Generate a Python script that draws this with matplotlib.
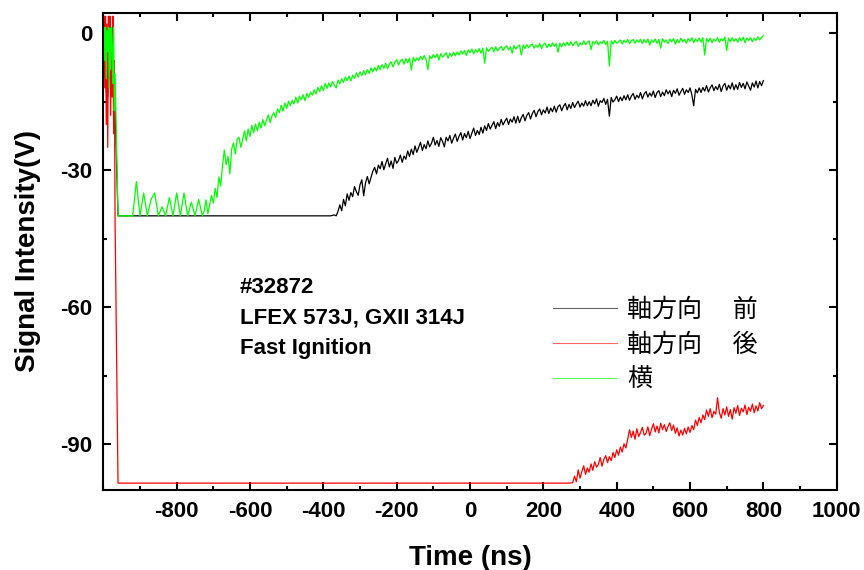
import numpy as np
import matplotlib.pyplot as plt
from matplotlib.ticker import MultipleLocator

plt.rcParams['font.family'] = ['Liberation Sans', 'DejaVu Sans']
plt.rcParams['axes.unicode_minus'] = False

# ---- data (ns, V) ----
t_burst = np.arange(-1000, -967, 2)   # initial noise burst, 2 ns
t_flat0 = -960                        # start of the saturated plateau
flat_step = 10                        # plateau sampling (ns)
rise_step = 5                         # sampling of the recovering part (ns)

black_burst = [-1, -4, -9, -2, -13, -5, -14, -3, -10, -6, -13, -2, -10, -7, -14, -11, -16]
red_burst = [-3, 3.7, -12, 3.7, -20, 2.0, -25, 3.7, -8, 3.7, -18, 1.0, -14, 3.7, -22, -6, -41]
green_burst = [0, 1.2, -6, 1.3, -10, 0.5, -4, 1.3, -12, 1.0, -8, 1.3, -3, -11, 1.2, -17, -9]

black_level = -40.0
red_level = -98.5
# 横 plateau (-960 .. -740 ns) has a few spikes
green_plateau = [-40, -40, -40, -40, -40, -32.5, -40, -35, -40, -36.4, -35, -40,
                 -38, -40, -36, -40, -35, -40, -35, -40, -37, -40, -36.4]

# 軸方向 前, from -370 ns
black_t0 = -370
black_rise = [
    -39.8, -40.0, -39.0, -37.6, -38.9, -36.4, -37.8, -35.2, -36.6, -34.9, -35.8, -33.6, -34.7, -35.5, -33.2, -32.1, -35.6, -32.8, -31.4, -33.0,
    -31.6, -30.2, -29.4, -30.8, -28.9, -29.7, -28.1, -29.9, -28.6, -27.4, -29.3, -28.0, -29.6, -27.2, -28.5, -27.9, -26.7, -28.3, -26.9, -27.6,
    -25.8, -27.0, -25.4, -26.6, -24.7, -26.1, -25.0, -23.9, -25.7, -24.4, -25.3, -23.6, -24.9, -24.1, -22.8, -24.5, -23.5, -24.8, -22.9, -23.7,
    -24.9, -22.8, -23.6, -22.4, -24.1, -23.0, -22.1, -23.7, -22.6, -21.8, -23.4, -22.0, -22.9, -21.5, -23.1, -21.9, -20.8, -22.4, -21.3, -22.2,
    -20.6, -21.9, -20.3, -21.3, -19.8, -21.0, -20.2, -19.4, -20.9, -19.6, -20.4, -18.9, -20.1, -19.3, -18.6, -20.0, -18.8, -19.5, -18.3, -19.7,
    -18.2, -19.6, -18.5, -17.8, -19.2, -18.0, -17.4, -18.8, -17.6, -16.9, -18.3, -17.2, -16.6, -17.9, -16.8, -17.5, -16.2, -17.6, -16.4, -17.2,
    -16.0, -17.3, -16.1, -15.7, -17.0, -16.0, -15.4, -16.8, -15.6, -16.5, -15.2, -16.3, -15.5, -14.9, -16.2, -15.3, -16.0, -14.8, -15.9, -15.0,
    -15.9, -14.7, -15.5, -14.4, -16.0, -14.8, -15.2, -14.3, -15.6, -14.5, -18.2, -14.1, -15.1, -14.6, -13.8, -15.0, -14.0, -14.8, -13.7, -14.6,
    -13.5, -14.7, -13.8, -13.2, -14.5, -13.6, -14.2, -13.0, -14.4, -13.3, -12.8, -14.0, -13.1, -13.8, -12.7, -14.1, -13.0, -12.6, -13.9, -12.9,
    -13.7, -12.4, -13.3, -12.6, -13.9, -12.5, -13.2, -12.2, -13.6, -12.8, -12.1, -13.4, -12.4, -13.0, -12.0, -13.5, -15.9, -12.3, -13.1, -12.0,
    -13.0, -11.9, -12.7, -11.5, -12.9, -12.0, -11.3, -12.6, -11.7, -12.4, -11.2, -12.8, -11.6, -11.0, -12.5, -11.4, -12.2, -10.9, -12.4, -11.3,
    -12.3, -10.8, -11.9, -11.0, -12.2, -10.7, -11.6, -12.5, -10.9, -11.8, -10.5, -12.0, -10.6, -11.5, -10.4,
]

# 軸方向 後, from 280 ns
red_t0 = 280
red_rise = [
    -98.4, -97.0, -98.2, -95.6, -97.4, -96.0, -94.7, -96.6, -95.2, -96.1, -94.3, -95.7, -93.8, -95.0, -94.4, -92.9, -94.8, -93.3, -92.5, -94.0,
    -92.7, -93.6, -91.8, -92.9, -91.2, -92.4, -90.6, -91.7, -89.9, -90.8, -88.9, -86.8, -88.5, -87.1, -88.9, -86.6, -88.3, -87.4, -86.3, -88.0,
    -87.6, -86.2, -88.1, -86.7, -85.5, -87.3, -86.0, -87.5, -85.4, -86.8, -85.7, -87.2, -86.1, -85.3, -87.0, -85.8, -87.6, -86.4, -88.2, -86.9,
    -88.0, -86.5, -87.7, -86.2, -87.4, -85.9, -86.8, -84.7, -85.9, -84.1, -85.3, -83.6, -84.6, -82.5, -83.9, -82.2, -84.2, -82.8, -83.4, -79.8,
    -83.0, -84.3, -82.2, -83.6, -81.8, -83.9, -82.4, -84.5, -82.0, -83.2, -81.5, -83.7, -82.1, -82.9, -81.4, -83.5, -81.9, -82.8, -81.2, -83.1,
    -81.6, -82.7, -80.9, -82.2, -81.5,
]

# 横, from -730 ns
green_t0 = -730
green_rise = [
    -40.0, -39.0, -36.5, -39.5, -37.5, -35.5, -37.2, -34.0, -36.0, -31.5, -33.5, -29.0, -25.6, -28.8, -27.0, -30.8, -25.4, -24.0, -26.5, -23.2,
    -22.8, -25.0, -23.2, -21.4, -23.6, -21.0, -22.6, -20.2, -21.8, -19.9, -21.4, -19.5, -20.8, -18.9, -20.3, -19.0, -17.9, -19.6, -18.1, -17.4,
    -18.5, -16.6, -17.4, -15.8, -17.1, -15.3, -16.5, -14.9, -15.9, -14.7, -15.5, -14.0, -15.3, -13.8, -14.6, -13.5, -14.8, -13.2, -14.1, -12.9,
    -13.6, -12.4, -13.3, -11.9, -12.8, -11.5, -12.6, -11.0, -12.1, -10.9, -11.8, -10.6, -11.4, -12.0, -10.3, -11.1, -10.0, -10.8, -9.6, -10.4,
    -9.4, -10.5, -9.2, -9.9, -8.7, -9.6, -8.5, -9.3, -8.2, -9.1, -8.0, -8.8, -7.6, -8.5, -7.5, -8.3, -7.1, -8.0, -6.9, -7.7,
    -6.6, -7.8, -6.8, -6.3, -7.4, -6.4, -5.8, -7.0, -6.1, -5.7, -6.8, -5.6, -6.5, -5.5, -8.1, -5.3, -6.2, -5.4, -6.0, -5.1,
    -5.8, -4.9, -5.7, -8.0, -5.0, -5.6, -4.7, -5.4, -4.6, -5.9, -4.5, -5.3, -4.8, -4.3, -5.5, -4.4, -5.1, -4.2, -5.0, -4.1,
    -4.8, -3.9, -4.6, -3.8, -4.9, -3.7, -4.3, -3.5, -4.5, -3.6, -4.2, -3.4, -4.4, -3.3, -6.6, -3.2, -4.0, -3.5, -3.1, -4.1,
    -3.0, -3.9, -3.3, -2.9, -3.8, -3.1, -2.8, -3.7, -3.0, -4.4, -2.7, -3.5, -2.9, -2.6, -4.8, -2.6, -3.4, -2.5, -3.2, -2.6,
    -2.4, -3.3, -2.6, -3.1, -2.3, -3.4, -2.5, -2.2, -3.2, -2.4, -3.0, -2.1, -2.9, -2.3, -4.2, -2.2, -3.0, -2.1, -2.8, -2.0,
    -2.7, -1.9, -2.8, -2.2, -1.8, -2.9, -2.1, -2.6, -1.7, -2.5, -2.0, -1.7, -3.6, -1.8, -2.4, -1.7, -2.6, -1.9, -2.3, -1.6,
    -2.5, -1.8, -7.2, -1.7, -2.4, -1.6, -2.2, -1.9, -1.5, -2.4, -1.6, -2.1, -1.4, -2.3, -1.7, -1.4, -2.2, -1.5, -2.0, -1.3,
    -2.3, -1.4, -2.1, -1.3, -2.6, -1.5, -2.0, -1.3, -2.2, -1.4, -3.3, -1.2, -2.0, -1.5, -2.3, -1.3, -1.9, -1.2, -2.4, -1.4,
    -2.1, -1.1, -1.9, -1.4, -2.2, -1.2, -1.8, -1.0, -2.1, -1.3, -1.8, -1.1, -2.0, -1.0, -4.8, -1.2, -1.9, -1.1, -2.1, -1.3,
    -1.8, -1.0, -2.0, -1.2, -1.7, -0.9, -3.8, -1.1, -1.9, -1.0, -1.8, -1.2, -2.0, -1.0, -1.7, -0.9, -2.1, -1.1, -1.6, -1.0,
    -1.9, -1.1, -1.6, -0.8, -1.5, -1.0, -0.5,
]

labels = ['軸方向\u3000 前', '軸方向\u3000 後', '横']
colors = ['black', '#ff0000', '#00ff00']
info_text = '#32872\nLFEX 573J, GXII 314J\nFast Ignition'


def build_trace(burst, plateau, t0, rise):
    t_flat = np.arange(t_flat0, t0, flat_step)
    if np.isscalar(plateau):
        plateau = np.full(len(t_flat), plateau)
    t_rise = t0 + rise_step * np.arange(len(rise))
    t = np.concatenate([t_burst, t_flat, t_rise])
    v = np.concatenate([burst, plateau, rise])
    return t, v


traces = [
    build_trace(black_burst, black_level, black_t0, black_rise),
    build_trace(red_burst, red_level, red_t0, red_rise),
    build_trace(green_burst, green_plateau, green_t0, green_rise),
]

fig = plt.figure(figsize=(8.64, 5.70), dpi=100)
ax = fig.add_axes([0.1196, 0.1404, 0.8488, 0.8368])

for (t, v), c, lab in zip(traces, colors, labels):
    ax.plot(t, v, color=c, linewidth=0.9, label=lab)

ax.set_xlim(-1000, 1000)
ax.set_ylim(-100, 4.4)
ax.set_xticks(np.arange(-800, 1001, 200))
ax.set_yticks([0, -30, -60, -90])
ax.xaxis.set_minor_locator(MultipleLocator(100))
ax.yaxis.set_minor_locator(MultipleLocator(15))

ax.tick_params(which='both', direction='in', top=True, right=True, width=1.5)
ax.tick_params(which='major', length=6, labelsize=16, pad=8)
ax.tick_params(which='minor', length=3)
for lbl in ax.get_xticklabels() + ax.get_yticklabels():
    lbl.set_fontweight('bold')
for sp in ax.spines.values():
    sp.set_linewidth(1.5)

ax.set_xlabel('Time (ns)', fontsize=20, fontweight='bold')
ax.set_ylabel('Signal Intensity(V)', fontsize=20, fontweight='bold')
ax.xaxis.set_label_coords(0.5, -0.115)
ax.yaxis.set_label_coords(-0.085, 0.5)

ax.text(0.186, 0.446, info_text, transform=ax.transAxes, fontsize=16,
        fontweight='bold', va='top', ha='left', linespacing=1.6)

leg = ax.legend(loc='upper left', bbox_to_anchor=(0.613, 0.405), frameon=False,
                prop={'family': ['Noto Sans CJK JP', 'DejaVu Sans'], 'size': 18},
                handlelength=2.56, handletextpad=0.4, labelspacing=0.36,
                borderpad=0, borderaxespad=0)
for h, c in zip(leg.get_lines(), colors):
    h.set_color(c)
    h.set_linewidth(0.8)
    h.set_alpha(0.6)

fig.savefig('out.png', dpi=100)
